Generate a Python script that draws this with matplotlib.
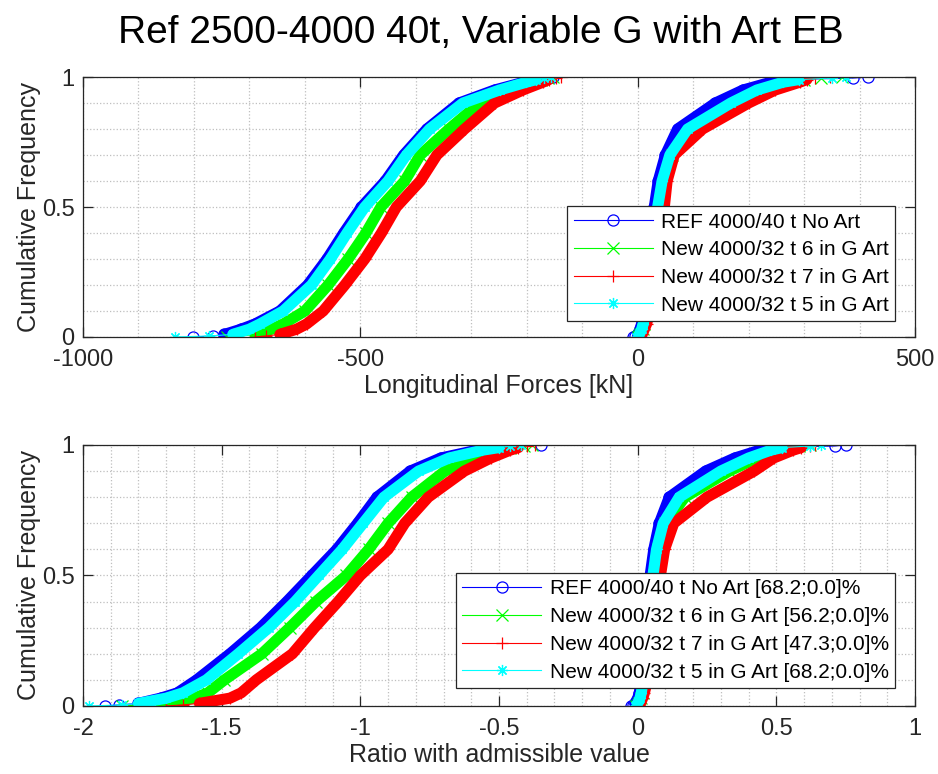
import numpy as np
import matplotlib
matplotlib.use("Agg")
import matplotlib.pyplot as plt
from matplotlib.ticker import MultipleLocator

plt.rcParams['font.family'] = ['Liberation Sans', 'DejaVu Sans']
plt.rcParams['axes.unicode_minus'] = False

# cumulative frequency levels at which the curves were read
cum_freq = [0, 0.004, 0.01, 0.03, 0.05, 0.1, 0.2, 0.3, 0.4, 0.5, 0.6, 0.7, 0.8, 0.9, 0.95, 0.98, 0.99, 0.996, 1.0]

# top plot: longitudinal forces [kN], compressive branch
force_neg_ref = [-802, -765, -745, -715, -690, -645, -595, -560, -530, -498, -455, -422, -380, -322, -258, -205, -185, -168, -152]
force_neg_g6 = [-740, -715, -690, -660, -639, -600, -558, -522, -490, -463, -420, -392, -340, -285, -231, -189, -175, -162, -152]
force_neg_g7 = [-690, -670, -645, -615, -597, -567, -528, -492, -462, -435, -392, -362, -312, -258, -207, -171, -160, -148, -138]
force_neg_g5 = [-835, -772, -730, -700, -681, -639, -588, -554, -524, -492, -450, -417, -375, -315, -249, -201, -183, -168, -156]
# top plot: tensile branch
force_pos_ref = [-8, -4, 0, 4, 7, 11, 16, 20, 25, 30, 37, 50, 72, 140, 190, 240, 268, 388, 415]
force_pos_g6 = [0, 2, 5, 9, 12, 17, 23, 28, 34, 40, 47, 62, 100, 180, 228, 272, 300, 330, 368]
force_pos_g7 = [2, 5, 8, 12, 16, 22, 29, 35, 41, 48, 53, 66, 117, 200, 248, 292, 305, 320, 346]
force_pos_g5 = [-3, 0, 3, 7, 10, 14, 20, 25, 30, 36, 44, 58, 90, 168, 215, 262, 290, 350, 376]

# bottom plot: ratio with admissible value
ratio_neg_ref = [-1.92, -1.87, -1.80, -1.72, -1.66, -1.59, -1.47, -1.36, -1.265, -1.175, -1.085, -1.01, -0.94, -0.82, -0.71, -0.58, -0.52, -0.45, -0.35]
ratio_neg_g6 = [-1.86, -1.78, -1.72, -1.60, -1.55, -1.49, -1.355, -1.255, -1.16, -1.05, -0.97, -0.90, -0.815, -0.695, -0.60, -0.50, -0.46, -0.41, -0.38]
ratio_neg_g7 = [-1.70, -1.64, -1.58, -1.47, -1.43, -1.375, -1.245, -1.165, -1.08, -1.00, -0.90, -0.84, -0.755, -0.625, -0.53, -0.46, -0.43, -0.40, -0.37]
ratio_neg_g5 = [-1.98, -1.86, -1.80, -1.70, -1.64, -1.555, -1.44, -1.33, -1.235, -1.15, -1.065, -0.99, -0.915, -0.79, -0.68, -0.56, -0.50, -0.46, -0.42]
ratio_pos_ref = [-0.025, -0.018, -0.01, 0.0, 0.006, 0.012, 0.02, 0.028, 0.036, 0.045, 0.058, 0.078, 0.114, 0.245, 0.35, 0.44, 0.48, 0.71, 0.75]
ratio_pos_g6 = [-0.005, 0.0, 0.005, 0.013, 0.018, 0.025, 0.034, 0.042, 0.05, 0.06, 0.075, 0.10, 0.17, 0.33, 0.43, 0.50, 0.54, 0.58, 0.62]
ratio_pos_g7 = [0.0, 0.005, 0.01, 0.018, 0.024, 0.036, 0.05, 0.06, 0.07, 0.082, 0.097, 0.13, 0.25, 0.42, 0.49, 0.56, 0.59, 0.62, 0.64]
ratio_pos_g5 = [-0.01, -0.005, 0.0, 0.008, 0.013, 0.02, 0.028, 0.036, 0.045, 0.055, 0.068, 0.092, 0.15, 0.30, 0.40, 0.48, 0.52, 0.62, 0.66]

labels_top = ['REF 4000/40 t No Art', 'New 4000/32 t 6 in G Art',
              'New 4000/32 t 7 in G Art', 'New 4000/32 t 5 in G Art']
labels_bot = ['REF 4000/40 t No Art [68.2;0.0]%', 'New 4000/32 t 6 in G Art [56.2;0.0]%',
              'New 4000/32 t 7 in G Art [47.3;0.0]%', 'New 4000/32 t 5 in G Art [68.2;0.0]%']
colors = [(0, 0, 1), (0, 1, 0), (1, 0, 0), (0, 1, 1)]
markers = ['o', 'x', '+', (8, 2, 0)]


def draw_series(ax, neg, pos, color, marker, label):
  f = np.array(cum_freq)
  for k, vals in enumerate((neg, pos)):
    vals = np.array(vals)
    # dense body of the distribution
    ax.plot(vals[2:-2], f[2:-2], color=color, lw=8, solid_capstyle='round',
            solid_joinstyle='round')
    ax.plot(vals, f, color=color, lw=0.8, marker=marker, ms=8, mfc='none', mew=0.9,
            label=label if k == 0 else None)


def style_axes(ax, xticks, xminor, xlabel):
  ax.set_xlim(xticks[0], xticks[-1])
  ax.set_ylim(0, 1)
  ax.set_xticks(xticks)
  ax.set_xticklabels(['%g' % t for t in xticks])
  ax.xaxis.set_minor_locator(MultipleLocator(xminor))
  ax.set_yticks([0, 0.5, 1])
  ax.set_yticklabels(['0', '0.5', '1'])
  ax.yaxis.set_minor_locator(MultipleLocator(0.1))
  ax.grid(which='both', linestyle=':', color='0.75', lw=0.9)
  ax.set_axisbelow(True)
  ax.tick_params(which='major', direction='in', top=True, right=True, length=7,
                 width=0.9, labelsize=17, colors='0.15')
  ax.tick_params(axis='x', which='major', pad=9)
  ax.tick_params(axis='y', which='major', pad=6)
  ax.tick_params(which='minor', length=0)
  for sp in ax.spines.values():
    sp.set_color('0.15')
    sp.set_linewidth(0.9)
  ax.set_xlabel(xlabel, fontsize=18, color='0.15', labelpad=2)
  ax.set_ylabel('Cumulative Frequency', fontsize=18, color='0.15', labelpad=1)


def main():
  fig = plt.figure(figsize=(9.38, 7.74), dpi=100)
  ax1 = fig.add_axes([0.0885, 0.5646, 0.887, 0.3359])
  ax2 = fig.add_axes([0.0885, 0.0879, 0.887, 0.3372])

  top = [(force_neg_ref, force_pos_ref), (force_neg_g6, force_pos_g6),
         (force_neg_g7, force_pos_g7), (force_neg_g5, force_pos_g5)]
  bot = [(ratio_neg_ref, ratio_pos_ref), (ratio_neg_g6, ratio_pos_g6),
         (ratio_neg_g7, ratio_pos_g7), (ratio_neg_g5, ratio_pos_g5)]

  for i in range(4):
    draw_series(ax1, top[i][0], top[i][1], colors[i], markers[i], labels_top[i])
    draw_series(ax2, bot[i][0], bot[i][1], colors[i], markers[i], labels_bot[i])

  style_axes(ax1, [-1000, -500, 0, 500], 100, 'Longitudinal Forces [kN]')
  style_axes(ax2, [-2, -1.5, -1, -0.5, 0, 0.5, 1], 0.1, 'Ratio with admissible value')

  for ax, anchor in ((ax1, (0.976, 0.0615)), (ax2, (0.976, 0.069))):
    leg = ax.legend(loc='lower right', bbox_to_anchor=anchor, borderaxespad=0,
                    fontsize=15, handlelength=3.8, handletextpad=0.4,
                    labelspacing=0.42, borderpad=0.3, fancybox=False,
                    framealpha=1, edgecolor='0.15')
    leg.get_frame().set_linewidth(0.9)

  fig.text(0.513, 0.958, 'Ref 2500-4000 40t, Variable G with Art EB',
           ha='center', va='center', fontsize=28)

  fig.savefig('out.png', dpi=100)


if __name__ == "__main__":
  main()
